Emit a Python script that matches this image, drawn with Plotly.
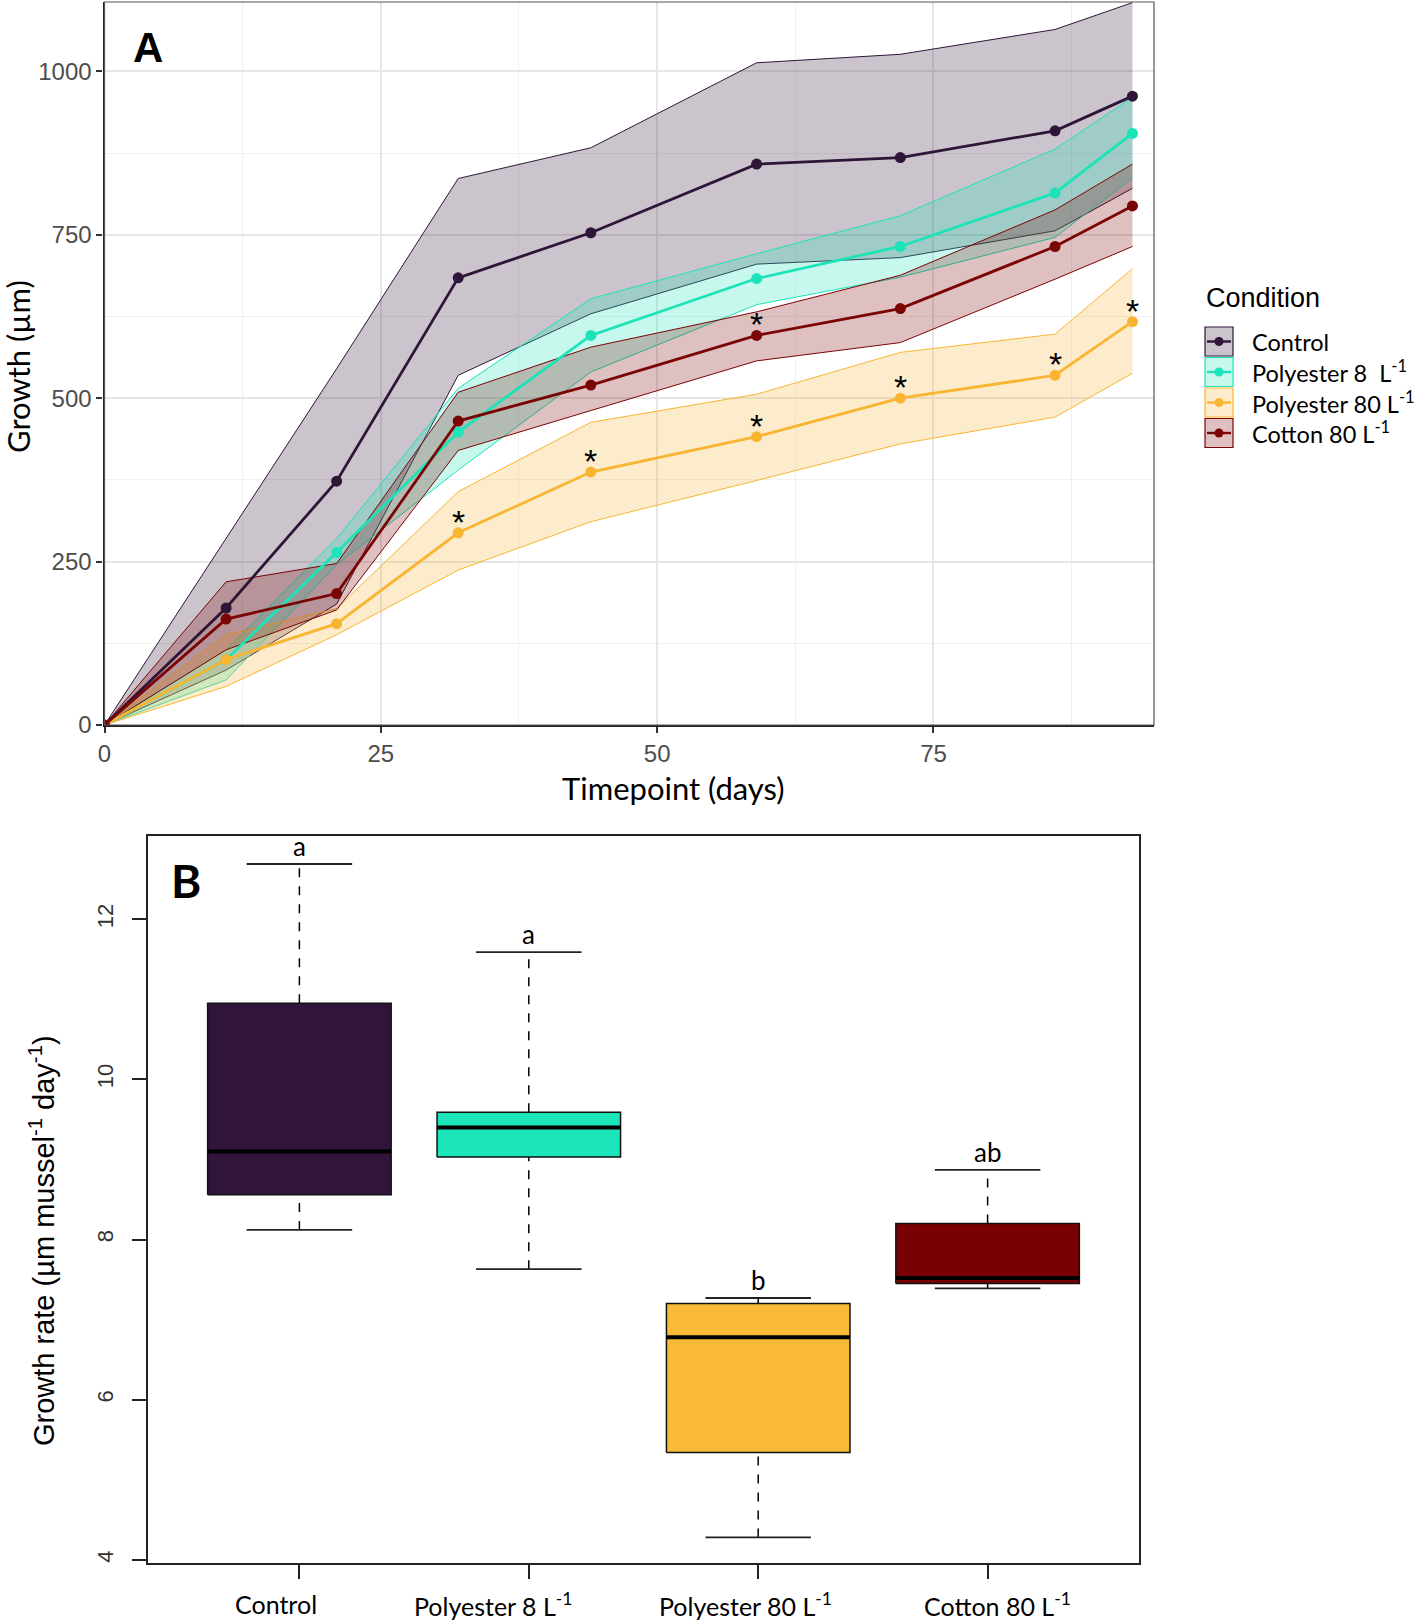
import plotly.graph_objects as go

# ---------------- Panel A data ----------------
days = [0, 11, 21, 32, 44, 59, 72, 86, 93]
series_names = ["Control", "Polyester 8\u00a0 L<sup>-1</sup>", "Polyester 80 L<sup>-1</sup>", "Cotton 80 L<sup>-1</sup>"]
series_colors = ["#2F1538", "#1DE3B9", "#F9B532", "#7B0404"]
series_fills = ["rgba(47,21,56,0.25)", "rgba(29,227,185,0.25)", "rgba(249,181,50,0.25)", "rgba(123,4,4,0.25)"]

control_mean = [0, 179, 373, 684, 753, 858, 868, 909, 962]
control_low = [0, 84, 185, 535, 629, 705, 715, 756, 821]
control_high = [0, 285, 545, 836, 883, 1013, 1026, 1064, 1105]

poly8_mean = [0, 100, 264, 448, 596, 683, 732, 814, 905]
poly8_low = [0, 69, 245, 390, 540, 643, 685, 746, 837]
poly8_high = [0, 115, 285, 515, 652, 721, 779, 881, 960]

poly80_mean = [0, 100, 155, 294, 387, 441, 500, 535, 617]
poly80_low = [0, 59, 138, 237, 311, 374, 430, 471, 538]
poly80_high = [0, 138, 178, 357, 463, 506, 570, 598, 698]

cotton_mean = [0, 162, 201, 465, 520, 596, 637, 732, 794]
cotton_low = [0, 115, 176, 420, 481, 557, 585, 682, 732]
cotton_high = [0, 219, 247, 509, 578, 632, 688, 788, 858]

# significance stars (True = '*')
control_sig = [False] * 9
poly8_sig = [False] * 9
poly80_sig = [False, False, False, True, True, True, True, True, True]
cotton_sig = [False, False, False, False, False, True, False, False, False]

means = [control_mean, poly8_mean, poly80_mean, cotton_mean]
lows = [control_low, poly8_low, poly80_low, cotton_low]
highs = [control_high, poly8_high, poly80_high, cotton_high]
sigs = [control_sig, poly8_sig, poly80_sig, cotton_sig]

# ---------------- Panel B data ----------------
box_categories = ["Control", "Polyester 8 L<sup>-1</sup>", "Polyester 80 L<sup>-1</sup>", "Cotton 80 L<sup>-1</sup>"]
box_colors = ["#31143A", "#1DE5BA", "#F8BA38", "#7A0103"]
whisker_low = [8.12, 7.63, 4.28, 7.39]
box_q1 = [8.56, 9.03, 5.34, 7.45]
box_median = [9.10, 9.40, 6.78, 7.52]
box_q3 = [10.95, 9.59, 7.20, 8.20]
whisker_high = [12.69, 11.59, 7.27, 8.87]
group_letters = ["a", "a", "b", "ab"]

W, H = 1416, 1622
def px(x):
    return x / W
def py(y):
    return 1 - y / H

fig = go.Figure()

# ribbons
for i in range(4):
    fig.add_trace(go.Scatter(x=days, y=highs[i], mode="lines",
                             line=dict(color=series_colors[i], width=1),
                             showlegend=False, hoverinfo="skip", xaxis="x", yaxis="y"))
    fig.add_trace(go.Scatter(x=days, y=lows[i], mode="lines", fill="tonexty",
                             fillcolor=series_fills[i],
                             line=dict(color=series_colors[i], width=1),
                             showlegend=False, hoverinfo="skip", xaxis="x", yaxis="y"))
# mean lines
for i in range(4):
    fig.add_trace(go.Scatter(x=days, y=means[i], mode="lines+markers",
                             line=dict(color=series_colors[i], width=2.8),
                             marker=dict(color=series_colors[i], size=11),
                             name=series_names[i], showlegend=False,
                             xaxis="x", yaxis="y"))

annotations = []
for i in range(4):
    for d, v, s in zip(days, means[i], sigs[i]):
        if s:
            annotations.append(dict(x=d, y=v, xref="x", yref="y", text="*", showarrow=False,
                                    yanchor="middle", yshift=11,
                                    font=dict(family="Liberation Sans", size=34, color="black")))

# ---------------- Panel B boxes ----------------
hw = 0.4
cw = 0.23
for i in range(4):
    xc = i + 1
    fig.add_trace(go.Scatter(x=[xc, xc], y=[box_q3[i], whisker_high[i]], mode="lines",
                             line=dict(color="black", width=1.5, dash="dash"),
                             showlegend=False, hoverinfo="skip", xaxis="x2", yaxis="y2"))
    fig.add_trace(go.Scatter(x=[xc, xc], y=[whisker_low[i], box_q1[i]], mode="lines",
                             line=dict(color="black", width=1.5, dash="dash"),
                             showlegend=False, hoverinfo="skip", xaxis="x2", yaxis="y2"))
    for yv in (whisker_high[i], whisker_low[i]):
        fig.add_trace(go.Scatter(x=[xc - cw, xc + cw], y=[yv, yv], mode="lines",
                                 line=dict(color="#222", width=1.8),
                                 showlegend=False, hoverinfo="skip", xaxis="x2", yaxis="y2"))
    fig.add_trace(go.Scatter(x=[xc - hw, xc + hw, xc + hw, xc - hw, xc - hw],
                             y=[box_q1[i], box_q1[i], box_q3[i], box_q3[i], box_q1[i]],
                             mode="lines", fill="toself", fillcolor=box_colors[i],
                             line=dict(color="#111", width=1.5),
                             showlegend=False, hoverinfo="skip", xaxis="x2", yaxis="y2"))
    fig.add_trace(go.Scatter(x=[xc - hw, xc + hw], y=[box_median[i], box_median[i]], mode="lines",
                             line=dict(color="black", width=4),
                             showlegend=False, hoverinfo="skip", xaxis="x2", yaxis="y2"))
    annotations.append(dict(x=xc, y=whisker_high[i], xref="x2", yref="y2", text=group_letters[i],
                            showarrow=False, yanchor="bottom", yshift=0,
                            font=dict(family="Lato", size=26, color="black")))

label_xshift = [-23, -36, -13, 10]
for i in range(4):
    annotations.append(dict(x=i + 1, y=py(1604), xref="x2", yref="paper", text=box_categories[i],
                            showarrow=False, xanchor="center", yanchor="middle", xshift=label_xshift[i],
                            font=dict(family="Lato", size=25, color="black")))

annotations += [
    dict(x=px(18), y=py(367), xref="paper", yref="paper", text="Growth (µm)", textangle=-90,
         showarrow=False, xanchor="center", yanchor="middle",
         font=dict(family="Lato", size=31, color="black")),
    dict(x=px(673), y=py(788), xref="paper", yref="paper", text="Timepoint (days)",
         showarrow=False, xanchor="center", yanchor="middle",
         font=dict(family="Lato", size=31, color="black")),
    dict(x=px(42), y=py(1241), xref="paper", yref="paper",
         text="Growth rate (µm mussel<sup>-1</sup> day<sup>-1</sup>)", textangle=-90,
         showarrow=False, xanchor="center", yanchor="middle",
         font=dict(family="Liberation Sans", size=29, color="black")),
    dict(x=px(148), y=py(47), xref="paper", yref="paper", text="<b>A</b>",
         showarrow=False, xanchor="center", yanchor="middle",
         font=dict(family="Liberation Sans", size=42, color="black")),
    dict(x=px(186), y=py(880), xref="paper", yref="paper", text="<b>B</b>",
         showarrow=False, xanchor="center", yanchor="middle",
         font=dict(family="Lato", size=46, color="black")),
    dict(x=px(1204), y=py(298), xref="paper", yref="paper", text="Condition",
         showarrow=False, xanchor="left", yanchor="middle",
         font=dict(family="Liberation Sans", size=27, color="black")),
]

shapes = []
shapes.append(dict(type="rect", xref="x domain", yref="y domain", x0=0, x1=1, y0=0, y1=1,
                   line=dict(color="#555", width=1.2), fillcolor="rgba(0,0,0,0)", layer="above"))
for i in range(4):
    top = 327 + i * 30.5
    bot = top + 29
    yc = (top + bot) / 2
    shapes.append(dict(type="rect", xref="paper", yref="paper", x0=px(1205), x1=px(1233),
                       y0=py(bot), y1=py(top), fillcolor=series_fills[i],
                       line=dict(color=series_colors[i], width=1.2)))
    shapes.append(dict(type="line", xref="paper", yref="paper", x0=px(1207), x1=px(1231),
                       y0=py(yc), y1=py(yc), line=dict(color=series_colors[i], width=2.4)))
    shapes.append(dict(type="circle", xref="paper", yref="paper", x0=px(1214.5), x1=px(1223.5),
                       y0=py(yc + 4.5), y1=py(yc - 4.5), fillcolor=series_colors[i],
                       line=dict(color=series_colors[i], width=0)))
    annotations.append(dict(x=px(1250), y=py(yc), xref="paper", yref="paper", text=series_names[i],
                            showarrow=False, xanchor="left", yanchor="middle",
                            font=dict(family="Lato", size=23.5, color="black")))

fig.update_layout(
    width=W, height=H, margin=dict(l=0, r=0, t=0, b=0, pad=0, autoexpand=False),
    paper_bgcolor="white", plot_bgcolor="white", showlegend=False,
    xaxis=dict(domain=[px(104.5), px(1154)], range=[0, 94.95], anchor="y", automargin=False,
               tickmode="array", tickvals=[0, 25, 50, 75], ticks="outside", ticklen=6,
               tickcolor="#333", tickwidth=1.5,
               tickfont=dict(family="Liberation Sans", size=24, color="#4D4D4D"),
               showgrid=True, gridcolor="#E6E6E6", gridwidth=1.5,
               minor=dict(tickvals=[12.5, 37.5, 62.5, 87.5], showgrid=True, gridcolor="#F0F0F0", gridwidth=1, ticks=""),
               showline=True, linecolor="#222", linewidth=2.2, zeroline=False),
    yaxis=dict(domain=[py(725), py(2)], range=[0, 1106], anchor="x", automargin=False,
               tickmode="array", tickvals=[0, 250, 500, 750, 1000], ticks="outside", ticklen=6,
               tickcolor="#333", tickwidth=1.5,
               tickfont=dict(family="Liberation Sans", size=24, color="#4D4D4D"),
               showgrid=True, gridcolor="#E6E6E6", gridwidth=1.5,
               minor=dict(tickvals=[125, 375, 625, 875], showgrid=True, gridcolor="#F0F0F0", gridwidth=1, ticks=""),
               showline=True, linecolor="#222", linewidth=2.2, zeroline=False),
    xaxis2=dict(domain=[px(148), px(1139)], range=[0.34, 4.66], anchor="y2", automargin=False,
                tickmode="array", tickvals=[1, 2, 3, 4], showticklabels=False,
                ticks="outside", ticklen=14, tickcolor="#222", tickwidth=1.5,
                showgrid=False, zeroline=False, showline=True, mirror=True,
                linecolor="#222", linewidth=1.8),
    yaxis2=dict(domain=[py(1563), py(836)], range=[3.96, 13.04], anchor="x2", automargin=False,
                tickmode="array", tickvals=[4, 6, 8, 10, 12], tickangle=-90,
                ticks="outside", ticklen=14, tickcolor="#222", tickwidth=1.5,
                tickfont=dict(family="Liberation Sans", size=22, color="#333"),
                ticklabelstandoff=10,
                showgrid=False, zeroline=False, showline=True, mirror=True,
                linecolor="#222", linewidth=1.8),
    annotations=annotations,
    shapes=shapes,
)

fig.write_html("out.html", config={"displayModeBar": False},
               post_script="document.body.style.margin='0';document.body.style.padding='0';document.body.style.overflow='hidden';")
